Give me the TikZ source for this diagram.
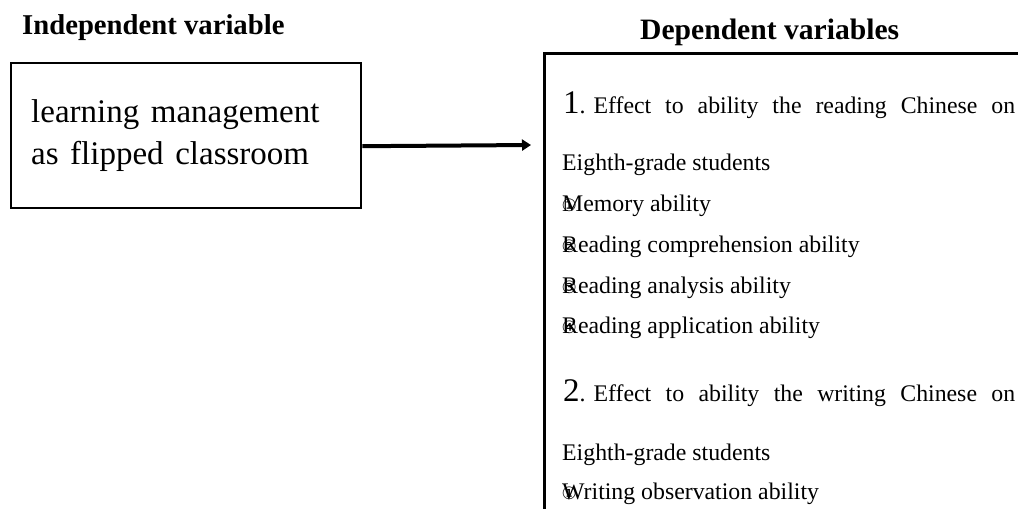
\documentclass[tikz,border=0pt]{standalone}
\usepackage{fontspec}
\setmainfont{Liberation Serif}
\newfontfamily\symfont{DejaVu Sans}
\usetikzlibrary{arrows.meta}
\newcommand{\ovl}[1]{\makebox[0pt][l]{\kern-0.5pt{\symfont\fontsize{17}{17}\selectfont #1}}}
\tikzset{
  head/.style={font=\fontsize{28.7}{28.7}\selectfont\bfseries, anchor=base west, inner sep=0pt},
  item/.style={font=\fontsize{23.8}{23.8}\selectfont, anchor=base west, inner sep=0pt},
  frame/.style={draw, line width=2.4pt},
  conn/.style={line width=4pt, -{Triangle[length=9pt,width=11pt]}}
}
\begin{document}
\begin{tikzpicture}[x=1pt,y=-1pt]
\useasboundingbox (0,0) rectangle (1018,509);
\fill[white] (0,0) rectangle (1018,509);
\node[head] (hind) at (22,34) {Independent variable};
\node[head, font=\fontsize{29.6}{29.6}\selectfont\bfseries] (hdep) at (640,39) {Dependent variables};
\node[frame, anchor=north west, minimum height=145pt, text width=310pt, inner xsep=20pt, align=left,
  font=\fontsize{33}{42}\selectfont] (indep) at (10,62)
  {learning\hspace{0.35em}management\\as\hspace{0.35em}flipped\hspace{0.35em}classroom};
\node[frame, line width=2.8pt, anchor=north west, minimum width=520pt, minimum height=500pt] (dep) at (543,52) {};
\coordinate (arrowend) at (531,145);
\draw[conn] ([yshift=-10.5pt]indep.east) -- (arrowend);
\node[item] (l1) at (563,113) {\makebox[452pt][s]{\mbox{{\fontsize{33}{33}\selectfont 1}. Effect} to ability the reading Chinese on}};
\node[item] (l2) at (562,170) {Eighth-grade students};
\node[item] (l3) at (562,211) {\ovl{①}Memory ability};
\node[item] (l4) at (562,252) {\ovl{②}Reading comprehension ability};
\node[item] (l5) at (562,293) {\ovl{③}Reading analysis ability};
\node[item] (l6) at (562,333) {\ovl{④}Reading application ability};
\node[item] (l7) at (563,401) {\makebox[452pt][s]{\mbox{{\fontsize{33}{33}\selectfont 2}. Effect} to ability the writing Chinese on}};
\node[item] (l8) at (562,460) {Eighth-grade students};
\node[item] (l9) at (562,499) {\ovl{①}Writing observation ability};
\end{tikzpicture}
\end{document}
